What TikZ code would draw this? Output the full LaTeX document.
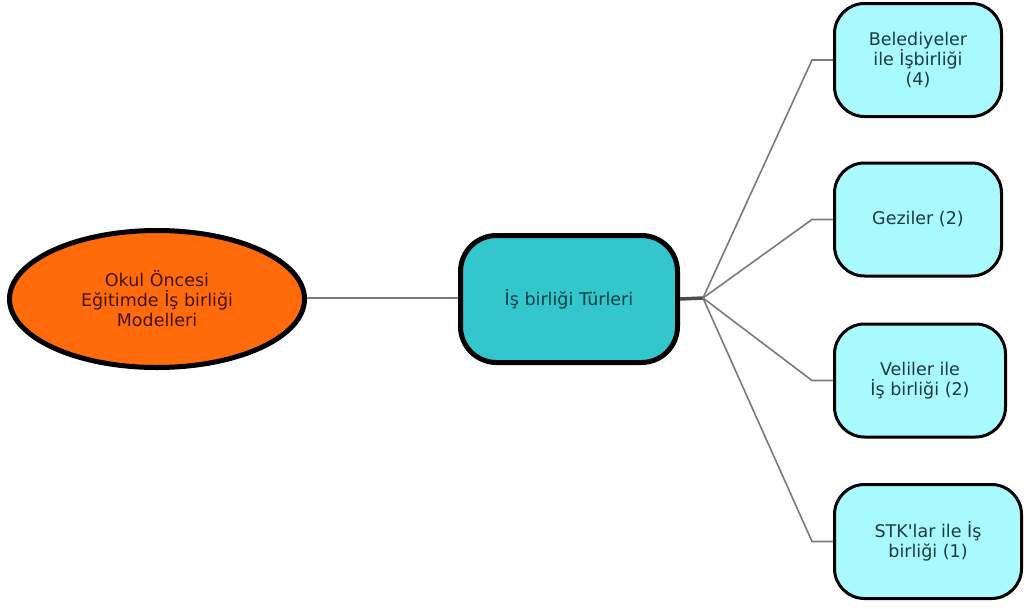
\documentclass[tikz,border=0pt]{standalone}
\usepackage{fontspec}
\setmainfont{DejaVu Sans}
\usetikzlibrary{shapes.geometric}
\definecolor{orangefill}{HTML}{FF6B0A}
\definecolor{tealfill}{HTML}{33C6CC}
\definecolor{cyanfill}{HTML}{A8FAFF}
\definecolor{browntext}{HTML}{3F1405}
\definecolor{tealtext}{HTML}{0B3F47}
\definecolor{slatetext}{HTML}{1B3A42}
\definecolor{linegray}{HTML}{7A7A7A}
\newcommand{\apos}{\XeTeXglyph\XeTeXcharglyph"0027\relax}
\begin{document}
\begin{tikzpicture}[x=1pt,y=-1pt,
  every node/.style={font=\fontsize{17.5}{20}\selectfont, align=center, inner sep=0pt},
  rootnode/.style={ellipse, draw=black, line width=5pt, fill=orangefill, text=browntext,
    minimum width=295pt, minimum height=137pt},
  midbox/.style={rectangle, rounded corners=36pt, draw=black, line width=5pt, fill=tealfill,
    text=tealtext, minimum width=217pt, minimum height=127pt},
  leafbox/.style={rectangle, rounded corners=30pt, draw=black, line width=3pt, fill=cyanfill,
    text=slatetext, minimum height=113pt},
  link/.style={draw=linegray, line width=1.6pt},
  stub/.style={draw=black!70, line width=3.5pt}
]
\useasboundingbox (0,0) rectangle (1025,608);
\fill[white] (0,0) rectangle (1025,608);

\draw[link, line width=2pt] (300,298) -- (465,298);

\node[rootnode] (root) at (157,299) {Okul Öncesi\\Eğitimde İş birliği\\Modelleri};
\node[midbox] (mid) at (569,299) {İş birliği Türleri};
\coordinate (j) at (703,298);

\node[leafbox, minimum width=167pt] (b1) at (918,60) {Belediyeler\\ile İşbirliği\\(4)};
\node[leafbox, minimum width=167pt] (b2) at (918,219.5) {Geziler (2)};
\node[leafbox, minimum width=171pt] (b3) at (920,380.5) {Veliler ile\\İş birliği (2)};
\node[leafbox, minimum width=187pt, minimum height=114pt] (b4) at (928,541.5) {STK\apos lar ile İş\\birliği (1)};

\draw[stub] (mid.east) -- (j);
\foreach \b in {b1,b2,b3,b4}{
  \draw[link] (j) -- ([xshift=-21pt]\b.west) -- (\b.west);
}
\end{tikzpicture}
\end{document}
